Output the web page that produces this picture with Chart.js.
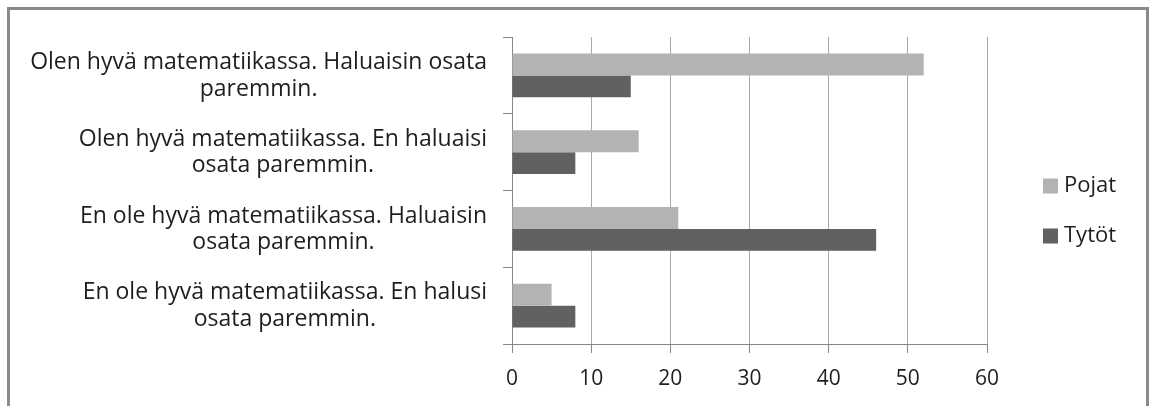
<!DOCTYPE html>
<html>
<head>
<meta charset="utf-8">
<title>Matematiikka – Pojat ja Tytöt</title>
<script src="https://cdn.jsdelivr.net/npm/chart.js@4.4.1/dist/chart.umd.min.js"></script>
<style>
  html, body { margin: 0; padding: 0; background: #ffffff; overflow: hidden; }
  #wrap { position: relative; width: 1149px; height: 406px; }
  #frame {
    position: absolute; left: 7px; top: 7px; width: 1142px; height: 420px;
    border: 3px solid #8a8a8a; box-sizing: border-box;
  }
  #chart { position: absolute; left: 0; top: 0; }
</style>
</head>
<body>
<div id="wrap">
  <div id="frame"></div>
  <canvas id="chart" width="1149" height="406"></canvas>
</div>
<script>
// Answer categories (each label is split into its two display lines)
const categories = [
  ['Olen hyvä matematiikassa. Haluaisin osata', 'paremmin.'],
  ['Olen hyvä matematiikassa. En haluaisi', 'osata paremmin.'],
  ['En ole hyvä matematiikassa. Haluaisin', 'osata paremmin.'],
  ['En ole hyvä matematiikassa. En halusi', 'osata paremmin.']
];

// Series
const seriesNames = ['Pojat', 'Tytöt'];
const pojat = [52, 16, 21, 5];
const tytot = [15, 8, 46, 8];

// Value axis
const xTicks = [0, 10, 20, 30, 40, 50, 60];

const FONT = 'Open Sans';
const TEXT = '#1e1e1e';
const AXIS = '#878787';
const GRID = '#a8a8a8';
const COLORS = ['#b3b3b3', '#616161'];

// Category labels: each block right-aligned next to the axis, its lines centred within the block
const categoryLabels = {
  id: 'categoryLabels',
  afterDraw(chart) {
    const ctx = chart.ctx;
    const y = chart.scales.y;
    const lineH = 26.5;
    const right = y.right - 25;
    ctx.save();
    ctx.font = '23px "' + FONT + '"';
    ctx.fillStyle = TEXT;
    ctx.textAlign = 'center';
    ctx.textBaseline = 'middle';
    categories.forEach((lines, i) => {
      const cy = y.getPixelForValue(i) + 0.5;
      const w = Math.max(...lines.map(l => ctx.measureText(l).width));
      const cx = right - w / 2;
      const y0 = cy - (lines.length - 1) * lineH / 2;
      lines.forEach((l, k) => ctx.fillText(l, cx, y0 + k * lineH));
    });
    ctx.restore();
  }
};

// Legend on the right, built from the datasets
const sideLegend = {
  id: 'sideLegend',
  afterDraw(chart) {
    const ctx = chart.ctx;
    const area = chart.chartArea;
    const boxX = area.right + 56;
    const box = 15;
    const gap = 50;
    const sets = chart.data.datasets;
    const firstY = 186;
    ctx.save();
    ctx.font = '22px "' + FONT + '"';
    ctx.textBaseline = 'middle';
    ctx.textAlign = 'left';
    sets.forEach((ds, i) => {
      const cy = firstY + i * gap;
      ctx.fillStyle = ds.backgroundColor;
      ctx.fillRect(boxX, cy - box / 2, box, box);
      ctx.fillStyle = TEXT;
      ctx.fillText(ds.label, boxX + box + 6, cy);
    });
    ctx.restore();
  }
};

new Chart(document.getElementById('chart'), {
  type: 'bar',
  data: {
    labels: categories.map(c => c.join(' ')),
    datasets: [
      { label: seriesNames[0], data: pojat, backgroundColor: COLORS[0] },
      { label: seriesNames[1], data: tytot, backgroundColor: COLORS[1] }
    ]
  },
  options: {
    indexAxis: 'y',
    responsive: false,
    animation: false,
    devicePixelRatio: 1,
    layout: { padding: { left: 0, top: 37, right: 162, bottom: 0 } },
    datasets: { bar: { categoryPercentage: 0.572, barPercentage: 1.0, borderWidth: 0 } },
    plugins: {
      legend: { display: false },
      tooltip: { enabled: false }
    },
    scales: {
      y: {
        type: 'category',
        offset: true,
        afterFit(scale) { scale.width = 512; },
        grid: { display: true, offset: true, drawOnChartArea: false, drawTicks: true, tickLength: 9, color: AXIS, lineWidth: 1 },
        border: { display: true, color: AXIS, width: 1 },
        ticks: { display: false }
      },
      x: {
        type: 'linear',
        min: xTicks[0],
        max: xTicks[xTicks.length - 1],
        afterFit(scale) { scale.height = 62; },
        afterBuildTicks(scale) { scale.ticks = xTicks.map(v => ({ value: v })); },
        grid: { color: GRID, lineWidth: 1, drawTicks: true, tickLength: 9, tickColor: AXIS },
        border: { display: true, color: AXIS, width: 1 },
        ticks: {
          padding: 13,
          color: TEXT,
          font: { family: FONT, size: 21 },
          maxRotation: 0
        }
      }
    }
  },
  plugins: [categoryLabels, sideLegend]
});
</script>
</body>
</html>
